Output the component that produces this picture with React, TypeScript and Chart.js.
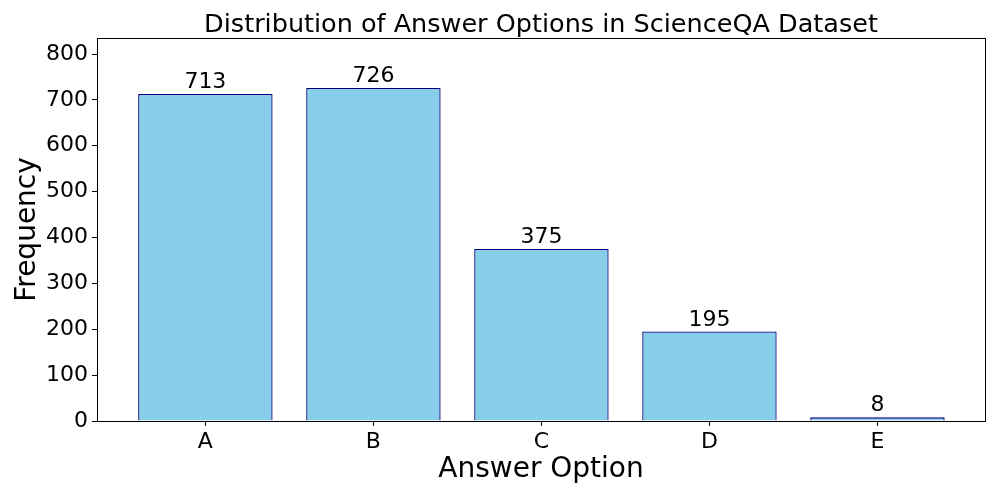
import React, { useEffect, useRef } from "react";
import { Chart, registerables } from "chart.js";

Chart.register(...registerables);

const categories = ["A", "B", "C", "D", "E"];
const frequencies = [713, 726, 375, 195, 8];
const yTicks = [0, 100, 200, 300, 400, 500, 600, 700, 800];
const chartTitle = "Distribution of Answer Options in ScienceQA Dataset";
const xTitle = "Answer Option";
const yTitle = "Frequency";

const FONT = "'DejaVu Sans', sans-serif";

export default function App() {
  const ref = useRef<HTMLCanvasElement>(null);
  useEffect(() => {
    if (!ref.current) return;
    const boxPlugin = {
      id: "box",
      afterDraw(chart: any) {
        const { ctx, chartArea } = chart;
        ctx.save();
        ctx.strokeStyle = "#000";
        ctx.lineWidth = 1;
        ctx.strokeRect(
          Math.round(chartArea.left) + 0.5,
          Math.round(chartArea.top) + 0.5,
          Math.round(chartArea.right - chartArea.left),
          Math.round(chartArea.bottom - chartArea.top)
        );
        ctx.fillStyle = "#000";
        ctx.font = `25.5px ${FONT}`;
        ctx.textAlign = "center";
        ctx.textBaseline = "alphabetic";
        ctx.fillText(chartTitle, (chartArea.left + chartArea.right) / 2, chartArea.top - 6);
        ctx.restore();
      },
    };
    const labelPlugin = {
      id: "barLabels",
      afterDatasetsDraw(chart: any) {
        const { ctx } = chart;
        const meta = chart.getDatasetMeta(0);
        ctx.save();
        ctx.fillStyle = "#000";
        ctx.font = `22px ${FONT}`;
        ctx.textAlign = "center";
        ctx.textBaseline = "alphabetic";
        meta.data.forEach((el: any, i: number) => {
          ctx.fillText(String(frequencies[i]), el.x, el.y - 6);
        });
        ctx.restore();
      },
    };
    const chart = new Chart(ref.current, {
      type: "bar",
      data: {
        datasets: [
          {
            data: frequencies.map((v, i) => ({ x: i, y: v })),
            backgroundColor: "#87CEEB",
            borderColor: "#000080",
            borderWidth: 1.3,
            barPercentage: 0.8,
            categoryPercentage: 1,
          },
        ],
      },
      options: {
        animation: false,
        responsive: false,
        maintainAspectRatio: false,
        layout: { padding: { left: 0, right: 12, top: 38, bottom: 0 } },
        plugins: {
          legend: { display: false },
          tooltip: { enabled: false },
          title: { display: false },
        },
        scales: {
          x: {
            type: "linear",
            offset: false,
            min: -0.645,
            max: 4.64,
            afterBuildTicks(scale: any) {
              scale.ticks = categories.map((_, i) => ({ value: i }));
            },
            afterFit(scale: any) {
              scale.height = 77;
            },
            ticks: {
              color: "#000",
              font: { family: FONT, size: 22 },
              padding: 3,
              callback: (v: any) => categories[Math.round(Number(v))] ?? "",
              maxRotation: 0,
              autoSkip: false,
            },
            grid: {
              offset: false,
              drawOnChartArea: false,
              drawTicks: true,
              tickLength: 5,
              color: "#000",
            },
            border: { display: true, color: "#000" },
            title: {
              display: true,
              text: xTitle,
              color: "#000",
              font: { family: FONT, size: 28 },
              padding: { top: 0, bottom: 11 },
            },
          },
          y: {
            type: "linear",
            min: 0,
            max: 834.9,
            afterBuildTicks(scale: any) {
              scale.ticks = yTicks.map((v) => ({ value: v }));
            },
            afterFit(scale: any) {
              scale.width = 97;
            },
            ticks: {
              color: "#000",
              font: { family: FONT, size: 22 },
              padding: 4,
            },
            grid: {
              drawOnChartArea: false,
              drawTicks: true,
              tickLength: 5,
              color: "#000",
            },
            border: { display: true, color: "#000" },
            title: {
              display: true,
              text: yTitle,
              color: "#000",
              font: { family: FONT, size: 28 },
              padding: { top: 11, bottom: 0 },
            },
          },
        },
      },
      plugins: [boxPlugin, labelPlugin],
    } as any);
    return () => chart.destroy();
  }, []);
  return (
    <div style={{ position: "fixed", left: 0, top: 0, width: 997, height: 498, background: "#fff" }}>
      <canvas ref={ref} width={997} height={498} style={{ width: 997, height: 498 }} />
    </div>
  );
}
